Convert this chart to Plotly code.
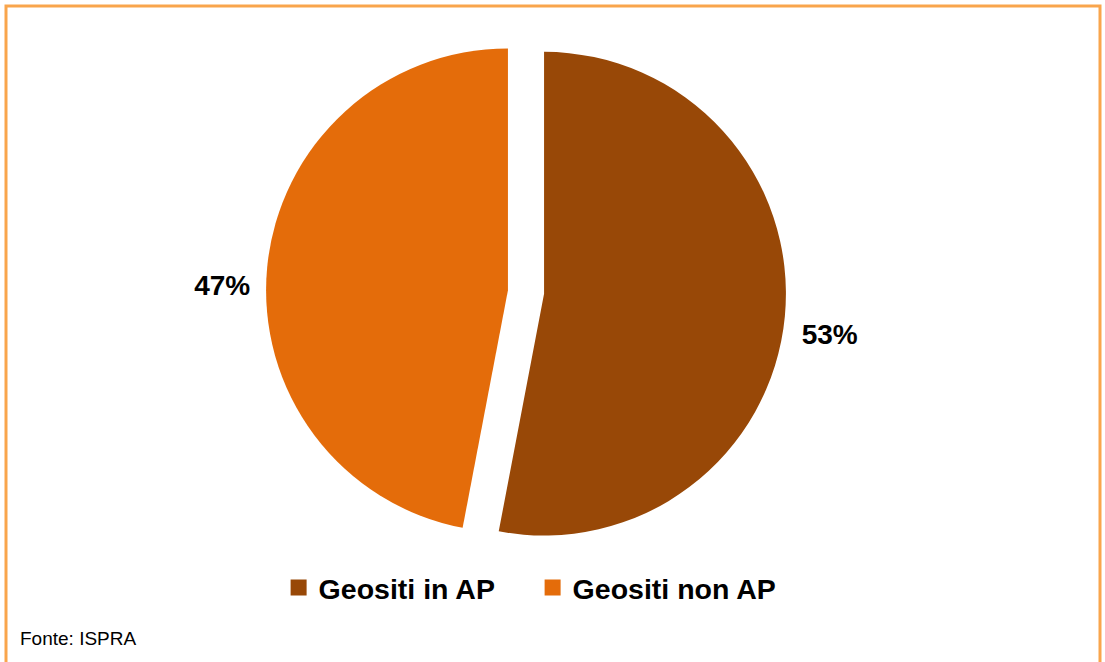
import plotly.graph_objects as go

labels = ["Geositi in AP", "Geositi non AP"]
values = [53, 47]
colors = ["#984807", "#E46C0A"]
pulls = [0.075, 0.075]
source_note = "Fonte: ISPRA"

W, H = 1105, 662
FONT = "Liberation Sans, Arial, sans-serif"

fig = go.Figure()
fig.add_trace(go.Pie(
    labels=labels,
    values=values,
    sort=False,
    direction="clockwise",
    rotation=0,
    pull=pulls,
    marker=dict(colors=colors, line=dict(width=0)),
    texttemplate="&nbsp;<br>%{percent:.0%}",
    textposition="outside",
    textfont=dict(family=FONT, size=28, color="black", weight="bold"),
    domain=dict(x=[266 / W, 786 / W], y=[(370 - 260) / H, (370 + 260) / H]),
    hoverinfo="skip",
    showlegend=False,
))

# legend entries with larger square swatches
for lab, col in zip(labels, colors):
    fig.add_trace(go.Scatter(
        x=[None], y=[None], mode="markers", name=lab,
        marker=dict(symbol="square", size=16, color=col),
        hoverinfo="skip",
    ))

fig.update_xaxes(visible=False)
fig.update_yaxes(visible=False)

fig.update_layout(
    width=W,
    height=H,
    margin=dict(l=0, r=0, t=0, b=0),
    paper_bgcolor="white",
    plot_bgcolor="rgba(0,0,0,0)",
    showlegend=True,
    legend=dict(
        orientation="h",
        x=0.482, xanchor="center",
        y=(H - 588) / H, yanchor="middle",
        font=dict(family=FONT, size=28.5, color="black", weight="bold"),
        entrywidth=209,
        bgcolor="rgba(0,0,0,0)",
    ),
    shapes=[dict(
        type="rect", xref="paper", yref="paper",
        x0=6 / W, x1=1100 / W, y0=-0.1, y1=1 - 6 / H,
        line=dict(color="#F9A54C", width=3),
    )],
    annotations=[dict(
        text=source_note, xref="paper", yref="paper",
        x=18 / W, y=(H - 638) / H, xanchor="left", yanchor="middle",
        showarrow=False,
        font=dict(family=FONT, size=19, color="black"),
    )],
)

fig.write_html("out.html", config={"displayModeBar": False},
               post_script="document.body.style.margin='0';")
